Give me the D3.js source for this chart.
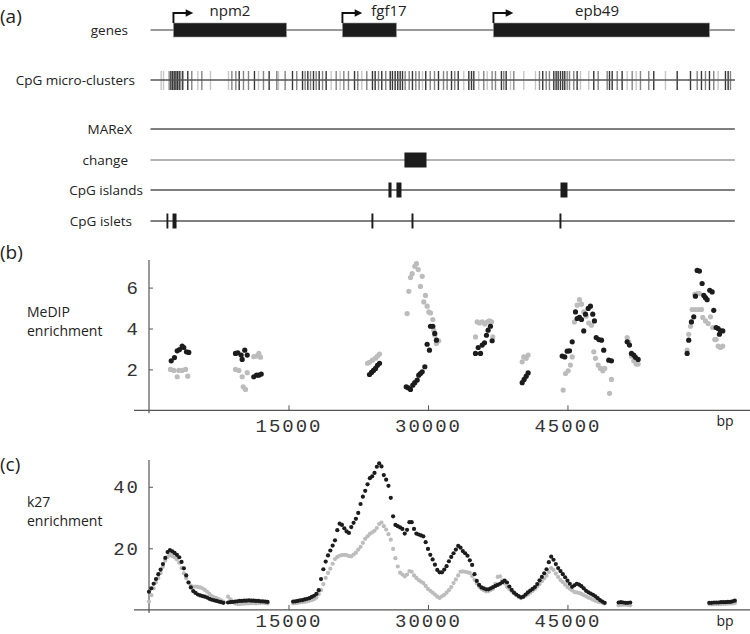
<!DOCTYPE html>
<html>
<head>
<meta charset="utf-8">
<script src="https://cdn.jsdelivr.net/npm/d3@7"></script>
<style>
body { margin: 0; background: #fff; }
svg { display: block; }
text { font-family: "Open Sans", sans-serif; fill: #222; }
.tick text { font-family: "Liberation Mono", monospace; font-size: 19px; letter-spacing: 2px; fill: #333; }
</style>
</head>
<body>
<svg id="chart" width="750" height="634"></svg>
<script>
// ---------------------------------------------------------------------------
// data (positions in bp)

var trackNames = ["genes", "CpG micro-clusters", "MAReX", "change", "CpG islands", "CpG islets"];
var trackStart = 160, trackEnd = 63000;

var geneNames = ["npm2", "fgf17", "epb49"];
var geneStart = [2630, 20800, 37040];
var geneEnd = [14790, 26610, 60270];

var changeStart = [27470];
var changeEnd = [29840];

var islandStart = [25750, 26610, 44250];
var islandEnd = [26080, 27150, 45000];

var isletStart = [1880, 2530, 23920, 28230, 44140];
var isletEnd = [2080, 2960, 24130, 28440, 44350];

// CpG micro-cluster positions and darkness (1 light, 2 mid, 3 dark)
var microPos = [1310, 1560, 2170, 2350, 2530, 2710, 2890, 3060, 3250, 3420, 3630, 4170, 4600, 5250, 5680, 6610,
  8550, 8910, 9340, 9700, 10160, 10700, 11340, 11770, 12310, 12920, 13740, 13920, 14640, 15430, 15890, 16510,
  16790, 17080, 17370, 17690, 17980, 18300, 18660, 19050, 19590, 20130, 20560, 20950, 21450, 22100, 22450, 22880,
  23420, 24030, 24320, 24680, 25030, 25460, 25940, 26180, 26470, 26750, 27010, 27260, 27550, 27980, 28330, 28690,
  29050, 29410, 29760, 30240, 30700, 31130, 31670, 32060, 32530, 32880, 33250, 33850, 34390, 34680, 34930, 35460,
  36000, 36370, 36900, 37260, 37900, 38150, 38410, 38870, 39230, 40300, 41560, 41990, 42340, 42710, 43060, 43530,
  43780, 44000, 44250, 44490, 44710, 44970, 45220, 45680, 46040, 46400, 47290, 47830, 48300, 49270, 49520, 49810,
  50350, 50880, 51420, 51960, 52390, 52850, 53740, 54280, 55540, 56800, 58230, 58950, 59410, 59840, 60270, 60730,
  61200, 61990, 62280, 62530];
var microWeight = [1, 1, 2, 3, 3, 3, 3, 3, 3, 2, 3, 3, 2, 1, 2, 1,
  1, 2, 2, 3, 2, 2, 3, 1, 2, 3, 2, 1, 2, 3, 2, 3,
  2, 3, 2, 3, 2, 3, 2, 3, 1, 2, 1, 2, 2, 3, 2, 1,
  2, 3, 3, 2, 3, 2, 3, 3, 3, 3, 3, 3, 2, 2, 3, 2,
  2, 1, 3, 2, 2, 3, 2, 2, 3, 2, 3, 1, 3, 3, 3, 1,
  2, 1, 2, 2, 3, 2, 3, 1, 2, 1, 1, 2, 3, 2, 2, 3,
  3, 3, 3, 3, 3, 2, 2, 2, 3, 1, 1, 3, 2, 2, 3, 3,
  2, 3, 1, 2, 1, 2, 2, 3, 1, 3, 3, 2, 3, 2, 3, 2,
  1, 3, 3, 2];

// (b) MeDIP enrichment, [bp, value]
var medipBlack = [[2390, 2.42], [2740, 2.58], [3030, 2.91], [3280, 2.97], [3570, 3.14], [3740, 3.07], [4030, 2.86], [4280, 2.83],
  [9300, 2.78], [9550, 2.81], [9910, 2.70], [10020, 2.49], [10300, 2.94], [10560, 2.70], [11270, 1.64], [11560, 1.72], [11810, 1.72], [12070, 1.77],
  [23710, 1.75], [23930, 1.85], [24140, 1.95], [24360, 2.05], [24570, 2.2], [24790, 2.3],
  [27660, 1.15], [27870, 1.10], [28120, 1.02], [28370, 1.23], [28580, 1.35], [28840, 1.48], [29010, 1.72], [29190, 1.80], [29380, 1.88], [29660, 2.13],
  [29910, 3.23], [30160, 2.94], [30270, 4.11], [30520, 4.11], [30730, 3.76], [30910, 3.43],
  [35110, 2.78], [35400, 3.07], [35650, 2.78], [35830, 3.19], [36080, 3.30], [36290, 3.67], [36470, 3.92], [36720, 4.11], [36900, 3.40],
  [40130, 1.35], [40340, 1.51], [40560, 1.67], [40770, 1.83],
  [44430, 2.65], [44710, 2.61], [44970, 2.89], [45220, 2.91], [45510, 3.35], [45860, 4.81], [46040, 4.49], [46290, 4.54], [46510, 4.44], [46750, 3.88],
  [46940, 4.70], [47230, 4.98], [47470, 5.09], [47720, 4.70], [47900, 4.37], [48090, 3.56], [48370, 3.46], [48660, 3.43], [48900, 2.94], [49440, 2.45], [49730, 2.42],
  [51420, 3.35], [51670, 3.19], [51880, 2.78], [52130, 2.70], [52310, 2.59], [52600, 2.49],
  [57870, 2.78], [58040, 3.43], [58330, 4.32], [58580, 4.57], [58760, 5.58], [58950, 6.84], [59190, 6.81], [59480, 6.2], [59660, 5.62], [59840, 5.51],
  [60020, 5.41], [60300, 5.87], [60560, 5.79], [60730, 4.89], [60990, 4.05], [61200, 4.0], [61340, 3.72], [61450, 3.88], [61700, 3.88]];

var medipGray = [[2310, 2.0], [2670, 1.95], [3030, 1.64], [3200, 1.95], [3570, 1.95], [3930, 2.0], [4170, 1.67],
  [9300, 2.0], [9660, 1.95], [10020, 1.64], [10130, 1.15], [10380, 1.02], [10560, 1.84], [11270, 2.62], [11560, 2.65], [11810, 2.78], [11990, 2.6],
  [23500, 2.3], [23710, 2.35], [24030, 2.45], [24360, 2.55], [24570, 2.65], [24790, 2.75],
  [27760, 4.73], [27940, 5.82], [28120, 6.49], [28300, 6.68], [28580, 7.04], [28760, 7.17], [28950, 6.88], [29190, 6.06], [29380, 6.55], [29550, 5.30],
  [29730, 5.62], [29910, 5.09], [30090, 4.81], [30270, 4.76], [30520, 4.44], [30620, 3.92], [30730, 3.67], [30990, 3.43], [30910, 3.27], [31160, 3.40],
  [35110, 3.59], [35290, 4.32], [35540, 4.27], [35830, 4.32], [36110, 4.22], [36370, 4.32], [36610, 4.37], [36830, 4.32], [36970, 3.59],
  [40130, 2.37], [40300, 2.61], [40560, 2.54], [40770, 2.70],
  [44540, 0.99], [44790, 1.80], [45080, 1.93], [45320, 2.21], [45510, 2.61], [45750, 4.32], [46040, 5.14], [46290, 5.41], [46510, 5.19], [46750, 4.81],
  [47010, 4.60], [47290, 4.27], [47580, 4.16], [47830, 2.86], [48010, 2.54], [48300, 2.21], [48550, 2.05], [48800, 1.93], [49010, 2.05], [49520, 0.83], [49730, 1.51],
  [51420, 3.56], [51590, 3.35], [51880, 2.65], [52130, 2.42], [52390, 2.26], [52600, 2.26],
  [57870, 2.94], [58040, 3.72], [58230, 4.11], [58410, 4.93], [58690, 5.67], [58950, 5.71], [59190, 5.71], [58760, 4.93], [59120, 4.93], [59410, 4.93],
  [59550, 4.54], [59840, 4.37], [60130, 4.24], [60380, 4.57], [60620, 4.05], [60840, 3.46], [60990, 3.46], [61200, 3.14], [61450, 3.07], [61700, 3.14]];

// (c) k27 enrichment, one value every 250 bp from each segment start
var k27Starts = [0, 8500, 15500, 50500, 60250];
var k27Step = 250;
var k27Black = [
  [5.9, 7.0, 8.5, 10.0, 11.6, 13.1, 14.9, 16.9, 18.8, 19.4, 19.0, 18.5, 17.9, 17.1, 15.6, 13.5, 11.2, 8.9, 7.3, 6.1,
   5.5, 5.0, 4.7, 4.5, 4.3, 4.0, 3.6, 3.3, 3.1, 2.9, 2.7, 2.5, 2.3],
  [2.4, 2.5, 2.6, 2.7, 2.8, 2.9, 2.9, 3.0, 3.0, 3.1, 3.0, 3.0, 2.9, 2.9, 2.8, 2.8, 2.7, 2.6],
  [2.7, 2.8, 2.9, 3.1, 3.2, 3.4, 3.6, 3.8, 4.2, 4.6,
   5.2, 6.4, 10.0, 13.2, 15.7, 17.7, 19.3, 20.9, 22.6, 25.9,
   28.0, 27.6, 26.5, 25.5, 25.0, 26.9, 28.3, 29.6, 31.5, 34.4,
   36.8, 38.7, 40.8, 42.8, 43.4, 44.5, 46.5, 47.6, 46.6, 43.8,
   42.3, 40.3, 36.4, 30.4, 27.6, 27.2, 26.8, 26.3, 24.8, 26.0,
   28.5, 28.5, 26.3, 24.8, 24.5, 24.2, 23.9, 22.0, 19.8, 17.9,
   16.4, 14.7, 13.0, 12.2, 12.2, 13.1, 14.2, 15.8, 17.2, 18.4,
   19.6, 20.8, 20.2, 19.1, 18.4, 17.6, 16.1, 14.6, 11.6, 9.4,
   8.1, 7.3, 7.0, 6.7, 6.7, 7.0, 7.4, 7.8, 8.1, 8.5,
   9.0, 9.5, 8.9, 7.6, 6.5, 5.6, 5.0, 4.5, 4.1, 4.3,
   5.0, 5.7, 6.3, 6.8, 7.4, 8.4, 9.6, 10.7, 11.9, 13.2,
   15.5, 17.3, 16.3, 14.9, 13.6, 12.6, 11.6, 10.6, 9.5, 8.5,
   7.5, 8.0, 8.5, 8.2, 7.7, 7.0, 6.2, 5.7, 5.3, 4.9,
   4.4, 3.8, 3.2, 2.7, 2.3],
  [2.4, 2.5, 2.4, 2.3, 2.3, 2.4],
  [2.3, 2.3, 2.4, 2.4, 2.4, 2.5, 2.5, 2.5, 2.6, 2.6, 2.8, 3.0]
];
var k27Gray = [
  [2.7, 4.8, 7.0, 8.9, 10.4, 12.0, 14.0, 16.0, 17.2, 17.8, 17.5, 17.1, 16.4, 15.3, 13.6, 11.9, 10.3, 9.0, 7.9, 7.5,
   7.6, 7.5, 7.3, 7.0, 6.5, 5.9, 5.2, 4.5, 4.1, 3.8, 3.5, 3.1, 2.7],
  [4.3, 3.4, 2.6, 2.1, 1.9, 1.9, 2.0, 2.0, 2.1, 2.1, 2.2, 2.2, 2.1, 2.2, 2.3, 2.3, 2.2, 2.1],
  [2.1, 2.2, 2.3, 2.4, 2.5, 2.6, 2.8, 3.0, 3.2, 3.5,
   4.0, 5.1, 6.4, 8.4, 10.4, 12.0, 13.4, 15.0, 16.5, 17.2,
   17.6, 17.8, 17.9, 17.8, 17.5, 17.4, 18.0, 18.6, 19.6, 20.5,
   21.8, 23.1, 23.9, 24.7, 25.2, 25.7, 26.6, 27.9, 28.4, 27.2,
   26.1, 24.6, 22.8, 19.8, 16.8, 14.1, 12.1, 11.5, 10.9, 11.5,
   12.6, 12.4, 11.2, 10.4, 9.7, 9.2, 8.7, 7.8, 6.8, 6.2,
   5.6, 5.0, 4.3, 3.9, 4.4, 4.9, 5.6, 6.4, 7.4, 8.7,
   9.9, 11.2, 12.4, 12.5, 12.4, 12.2, 12.0, 11.0, 9.8, 8.6,
   7.5, 6.8, 6.4, 6.0, 6.1, 6.5, 6.9, 8.5, 10.7, 10.9,
   9.6, 8.6, 7.5, 6.8, 6.0, 5.4, 4.8, 4.2, 3.8, 4.2,
   4.6, 5.0, 5.6, 6.2, 6.8, 7.6, 8.4, 9.3, 10.2, 11.1,
   12.3, 13.6, 13.0, 11.8, 10.7, 9.7, 9.0, 8.2, 7.4, 6.9,
   6.3, 5.8, 5.7, 5.5, 5.2, 4.8, 4.4, 4.0, 3.7, 3.3,
   3.0, 2.7, 2.5, 2.3, 2.1],
  [1.5, 1.6, 1.7, 1.7, 1.6, 1.5],
  [1.9, 1.8, 1.8, 1.9, 1.9, 1.9, 2.0, 2.0, 2.0, 2.1, 2.1, 2.2]
];

var xTicks = [15000, 30000, 45000];
var medipTicks = [2, 4, 6];
var k27Ticks = [20, 40];

// ---------------------------------------------------------------------------
// layout

var svg = d3.select("#chart");
var x = d3.scaleLinear().domain([0, 64500]).range([149, 748.8]);

var trackY = [30, 80, 129, 160, 190, 221];
var trackLabelEnd = [128, 135, 132, 128, 143, 132];
var geneLabelX = [230, 389, 597];

var blackCol = "#1c1c1c", grayCol = "#bcbcbc";

// ---------------------------------------------------------------------------
// (a) annotation tracks

svg.append("text").attr("x", 0).attr("y", 23).style("font-size", "19px").text("(a)");

svg.selectAll("text.trk").data(trackNames).enter().append("text")
  .attr("class", "trk")
  .attr("x", function (d, i) { return trackLabelEnd[i]; })
  .attr("y", function (d, i) { return trackY[i] + 5; })
  .attr("text-anchor", "end")
  .style("font-size", "13.5px")
  .text(function (d) { return d; });

// micro-cluster bars go under the line
var microY = trackY[1];
svg.append("g").selectAll("line").data(microPos).enter().append("line")
  .attr("x1", function (d) { return x(d); }).attr("x2", function (d) { return x(d); })
  .attr("y1", microY - 9).attr("y2", microY + 10)
  .attr("stroke", "#222").attr("stroke-width", 1.4)
  .attr("opacity", function (d, i) { return [0, 0.25, 0.55, 0.9][microWeight[i]]; });

svg.selectAll("line.trk").data(trackY).enter().append("line")
  .attr("class", "trk")
  .attr("x1", x(trackStart)).attr("x2", x(trackEnd))
  .attr("y1", function (d) { return d; }).attr("y2", function (d) { return d; })
  .attr("stroke", function (d, i) { return i === 3 ? "#9a9a9a" : (i === 0 ? "#777" : "#555"); })
  .attr("stroke-width", function (d, i) { return i === 1 ? 1.6 : 1.3; });

// genes
var genesY = trackY[0];
svg.selectAll("rect.gene").data(geneNames).enter().append("rect")
  .attr("class", "gene")
  .attr("x", function (d, i) { return x(geneStart[i]); })
  .attr("width", function (d, i) { return x(geneEnd[i]) - x(geneStart[i]); })
  .attr("y", genesY - 7).attr("height", 14)
  .attr("fill", "#1c1c1c").attr("stroke", "#999").attr("stroke-width", 0.6);

svg.append("defs").append("marker")
  .attr("id", "arrow").attr("viewBox", "0 0 10 10")
  .attr("refX", 1).attr("refY", 5)
  .attr("markerWidth", 4.6).attr("markerHeight", 4)
  .attr("markerUnits", "strokeWidth").attr("orient", "auto")
  .append("path").attr("d", "M0,0L10,5L0,10Z").attr("fill", "#111");

svg.selectAll("path.tss").data(geneNames).enter().append("path")
  .attr("class", "tss")
  .attr("d", function (d, i) {
    var gx = x(geneStart[i]);
    return "M" + gx + "," + (genesY - 7) + "V" + (genesY - 17) + "H" + (gx + 13);
  })
  .attr("fill", "none").attr("stroke", "#111").attr("stroke-width", 1.9)
  .attr("marker-end", "url(#arrow)");

svg.selectAll("text.gene").data(geneNames).enter().append("text")
  .attr("class", "gene")
  .attr("x", function (d, i) { return geneLabelX[i]; })
  .attr("y", 16)
  .attr("text-anchor", "middle")
  .style("font-size", "15px")
  .text(function (d) { return d; });

function drawBoxes(starts, ends, yc, h) {
  svg.append("g").selectAll("rect").data(starts).enter().append("rect")
    .attr("x", function (d) { return x(d); })
    .attr("width", function (d, i) { return Math.max(1.6, x(ends[i]) - x(d)); })
    .attr("y", yc - h / 2).attr("height", h)
    .attr("fill", "#1c1c1c");
}
drawBoxes(changeStart, changeEnd, trackY[3], 15);
drawBoxes(islandStart, islandEnd, trackY[4], 15);
drawBoxes(isletStart, isletEnd, trackY[5], 15);

// ---------------------------------------------------------------------------
// (b) and (c) scatter panels

function drawPanel(p) {
  var y = d3.scaleLinear().domain([0, p.ymax]).range([p.y0, p.ytop]);
  var g = svg.append("g");

  g.append("text").attr("x", 0).attr("y", p.tagY).style("font-size", "19px").text(p.tag);
  g.selectAll("text.lab").data(p.label).enter().append("text")
    .attr("class", "lab")
    .attr("x", 27).attr("y", function (d, i) { return p.labelY + i * 19; })
    .style("font-size", "14px").text(function (d) { return d; });

  g.append("text").attr("x", 725).attr("y", p.y0 + 16)
    .attr("text-anchor", "middle").style("font-size", "14px").text("bp");

  // axes, crossing a little past the origin
  g.append("line").attr("x1", 134).attr("x2", 750).attr("y1", p.y0).attr("y2", p.y0)
    .attr("stroke", "#555").attr("stroke-width", 1.2);
  g.append("line").attr("x1", x(0)).attr("x2", x(0)).attr("y1", p.ytop).attr("y2", p.y0 + 3)
    .attr("stroke", "#555").attr("stroke-width", 1.2);

  var xa = g.append("g").attr("transform", "translate(0," + p.y0 + ")")
    .call(d3.axisBottom(x).tickValues(xTicks).tickFormat(d3.format("d")).tickSize(-5).tickPadding(p.pad));
  xa.select(".domain").remove();
  xa.selectAll(".tick line").attr("stroke", "#555");

  var ya = g.append("g").attr("transform", "translate(" + x(0) + ",0)")
    .call(d3.axisLeft(y).tickValues(p.ticks).tickSize(-4).tickPadding(9));
  ya.select(".domain").remove();
  ya.selectAll(".tick line").attr("stroke", "#555");

  [[p.gray, grayCol], [p.black, blackCol]].forEach(function (s) {
    g.append("g").selectAll("circle").data(s[0]).enter().append("circle")
      .attr("cx", function (d) { return x(d[0]); })
      .attr("cy", function (d) { return y(d[1]); })
      .attr("r", p.r)
      .attr("fill", s[1]);
  });
}

function segPoints(segs) {
  var pts = [];
  segs.forEach(function (vals, s) {
    vals.forEach(function (v, i) { pts.push([k27Starts[s] + i * k27Step, v]); });
  });
  return pts;
}

drawPanel({
  tag: "(b)", tagY: 259, label: ["MeDIP", "enrichment"], labelY: 317,
  y0: 410.3, ytop: 260, ymax: 7.35, ticks: medipTicks, pad: 8.5,
  black: medipBlack, gray: medipGray, r: 2.6
});

drawPanel({
  tag: "(c)", tagY: 471, label: ["k27", "enrichment"], labelY: 507,
  y0: 609.9, ytop: 460, ymax: 48.7, ticks: k27Ticks, pad: 3.5,
  black: segPoints(k27Black), gray: segPoints(k27Gray), r: 2.1
});
</script>
</body>
</html>
